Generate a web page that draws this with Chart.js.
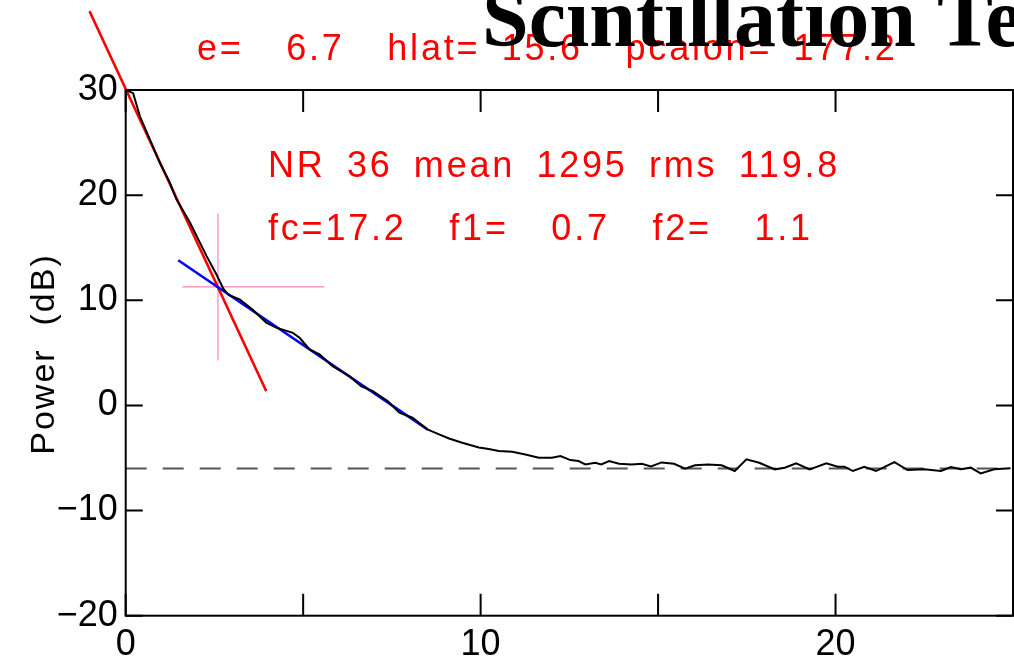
<!DOCTYPE html>
<html>
<head>
<meta charset="utf-8">
<script src="https://cdn.jsdelivr.net/npm/chart.js@4.4.1/dist/chart.umd.min.js"></script>
<style>
  html, body { margin: 0; padding: 0; background: #fff; }
  #chart { display: block; }
</style>
</head>
<body>
<canvas id="chart" width="1014" height="657"></canvas>
<script>
// spectrum: frequency and power (dB)
const freq = [0.0, 0.21, 0.40, 0.68, 0.96, 1.24, 1.43, 1.81, 2.28, 2.55,
  2.75, 2.9, 3.21, 3.58, 3.96, 4.24, 4.71, 4.9, 5.18, 5.46,
  5.83, 6.3, 6.63, 6.96, 7.38, 7.71, 8.08, 8.5, 8.83, 9.11,
  9.48, 9.95, 10.23, 10.51, 10.89, 11.26, 11.64, 12.01, 12.25, 12.53,
  12.76, 12.95, 13.23, 13.4, 13.62, 13.9, 14.26, 14.54, 14.8, 15.1,
  15.45, 15.76, 16.04, 16.41, 16.79, 17.16, 17.49, 17.85, 18.29, 18.57,
  18.89, 19.27, 19.74, 20.06, 20.25, 20.49, 20.81, 21.14, 21.66, 22.03,
  22.5, 22.97, 23.25, 23.53, 23.81, 24.09, 24.47, 24.93];
const power = [30.0, 29.7, 27.5, 25.3, 23.1, 21.2, 19.6, 17.4, 14.2, 12.5,
  11.1, 10.5, 10.08, 9.1, 7.86, 7.4, 6.9, 6.43, 5.32, 4.85,
  3.74, 2.79, 1.83, 1.36, 0.41, -0.69, -1.17, -2.28, -2.75, -3.15,
  -3.55, -4.0, -4.15, -4.34, -4.4, -4.66, -4.97, -4.97, -4.82, -5.2,
  -5.29, -5.61, -5.45, -5.61, -5.29, -5.55, -5.61, -5.55, -5.8, -5.42,
  -5.55, -6.02, -5.7, -5.61, -5.7, -6.24, -5.13, -5.45, -6.08, -5.92,
  -5.51, -6.08, -5.51, -5.83, -5.83, -6.24, -5.83, -6.24, -5.39, -6.15,
  -6.08, -6.24, -5.86, -6.08, -5.92, -6.46, -6.08, -5.98];

// fitted slopes (end points)
const steepFitX = [-1.02, 3.96];
const steepFitY = [37.5, 1.36];
const shallowFitX = [1.48, 8.5];
const shallowFitY = [13.81, -2.28];

// noise floor
const noiseX = [0, 25];
const noiseY = [-6.0, -6.0];

// crosshair at the break point
const crossX = 2.6;
const crossY = 11.28;
const crossHX = [1.6, 5.6];
const crossVY = [4.28, 18.25];

const xRange = [0, 25];
const yRange = [-20, 30];

const titleText = 'Scintillation Te';
const infoLines = [
  'e=  6.7  hlat= 15.6  pcalon= 177.2',
  'NR 36 mean 1295 rms 119.8',
  'fc=17.2  f1=  0.7  f2=  1.1'
];
const yTitle = 'Power  (dB)';

const pts = (xs, ys) => xs.map((v, i) => ({ x: v, y: ys[i] }));

// frame with inward ticks on all four sides, plus the annotations
const framePlugin = {
  id: 'frame',
  afterDraw(chart) {
    const { ctx, chartArea: a, scales: { x, y } } = chart;
    ctx.save();
    ctx.strokeStyle = '#000';
    ctx.lineWidth = 2;
    ctx.strokeRect(a.left, a.top, a.right - a.left, a.bottom - a.top);
    ctx.beginPath();
    x.ticks.forEach(t => {
      const px = x.getPixelForValue(t.value);
      ctx.moveTo(px, a.bottom); ctx.lineTo(px, a.bottom - 22);
      ctx.moveTo(px, a.top); ctx.lineTo(px, a.top + 22);
    });
    y.ticks.forEach(t => {
      const py = y.getPixelForValue(t.value);
      ctx.moveTo(a.left, py); ctx.lineTo(a.left + 17, py);
      ctx.moveTo(a.right, py); ctx.lineTo(a.right - 17, py);
    });
    ctx.stroke();

    // red info text
    ctx.fillStyle = '#ff0000';
    ctx.font = '36px "Liberation Sans", Arial, sans-serif';
    ctx.letterSpacing = '2.8px';
    ctx.wordSpacing = '8.5px';
    ctx.textAlign = 'left';
    ctx.textBaseline = 'alphabetic';
    ctx.fillText(infoLines[0], 197, 60);
    ctx.fillText(infoLines[1], 268, 177);
    ctx.fillText(infoLines[2], 268, 240);

    // y axis title
    ctx.fillStyle = '#000';
    ctx.font = '34px "Liberation Sans", Arial, sans-serif';
    ctx.letterSpacing = '2px';
    ctx.wordSpacing = '0px';
    ctx.save();
    ctx.translate(54, 354);
    ctx.rotate(-Math.PI / 2);
    ctx.textAlign = 'center';
    ctx.fillText(yTitle, 0, 0);
    ctx.restore();

    // big title, cut off at the edge
    ctx.letterSpacing = '0px';
    ctx.font = 'bold 84px "Liberation Serif", "Times New Roman", serif';
    ctx.textAlign = 'left';
    ctx.fillText(titleText, 482, 46);
    ctx.restore();
  }
};

const ctx = document.getElementById('chart').getContext('2d');
new Chart(ctx, {
  type: 'scatter',
  data: {
    datasets: [
      {
        label: 'spectrum',
        data: pts(freq, power),
        borderColor: '#000',
        borderWidth: 2,
        showLine: true,
        pointRadius: 0,
        tension: 0,
      },
      {
        label: 'fit 2',
        data: pts(shallowFitX, shallowFitY),
        borderColor: '#0000ff',
        borderWidth: 2.5,
        showLine: true,
        pointRadius: 0,
      },
      {
        label: 'fit 1',
        data: pts(steepFitX, steepFitY),
        borderColor: '#ff0000',
        borderWidth: 2.5,
        showLine: true,
        pointRadius: 0,
        clip: false,
      },
      {
        label: 'cross h',
        data: pts(crossHX, [crossY, crossY]),
        borderColor: '#ff80c0',
        borderWidth: 1.2,
        showLine: true,
        pointRadius: 0,
      },
      {
        label: 'cross v',
        data: pts([crossX, crossX], crossVY),
        borderColor: '#ff80c0',
        borderWidth: 1.2,
        showLine: true,
        pointRadius: 0,
      },
      {
        label: 'noise',
        data: pts(noiseX, noiseY),
        borderColor: '#555',
        borderWidth: 2,
        borderDash: [21, 16],
        showLine: true,
        pointRadius: 0,
      },
    ]
  },
  options: {
    responsive: false,
    animation: false,
    events: [],
    layout: { padding: { top: 90, right: 1, left: 0, bottom: 0 } },
    plugins: {
      legend: { display: false },
      tooltip: { enabled: false },
    },
    scales: {
      x: {
        type: 'linear',
        min: xRange[0],
        max: xRange[1],
        afterFit: (s) => { s.height = 41.3; s.paddingLeft = 0; s.paddingRight = 0; },
        grid: { display: false, drawTicks: false },
        border: { display: false },
        ticks: {
          stepSize: 5,
          autoSkip: false,
          maxRotation: 0,
          padding: 8,
          color: '#000',
          font: { family: '"Liberation Sans", Arial, sans-serif', size: 36 },
          callback: (v) => (v % 10 === 0 ? String(v) : ''),
        },
      },
      y: {
        type: 'linear',
        min: yRange[0],
        max: yRange[1],
        afterFit: (s) => { s.width = 125.7; },
        grid: { display: false, drawTicks: false },
        border: { display: false },
        ticks: {
          stepSize: 10,
          padding: 8,
          color: '#000',
          font: { family: '"Liberation Sans", Arial, sans-serif', size: 36 },
          callback: (v) => (v < 0 ? '\u2212' + Math.abs(v) : String(v)),
        },
      },
    },
  },
  plugins: [framePlugin],
});
</script>
</body>
</html>
